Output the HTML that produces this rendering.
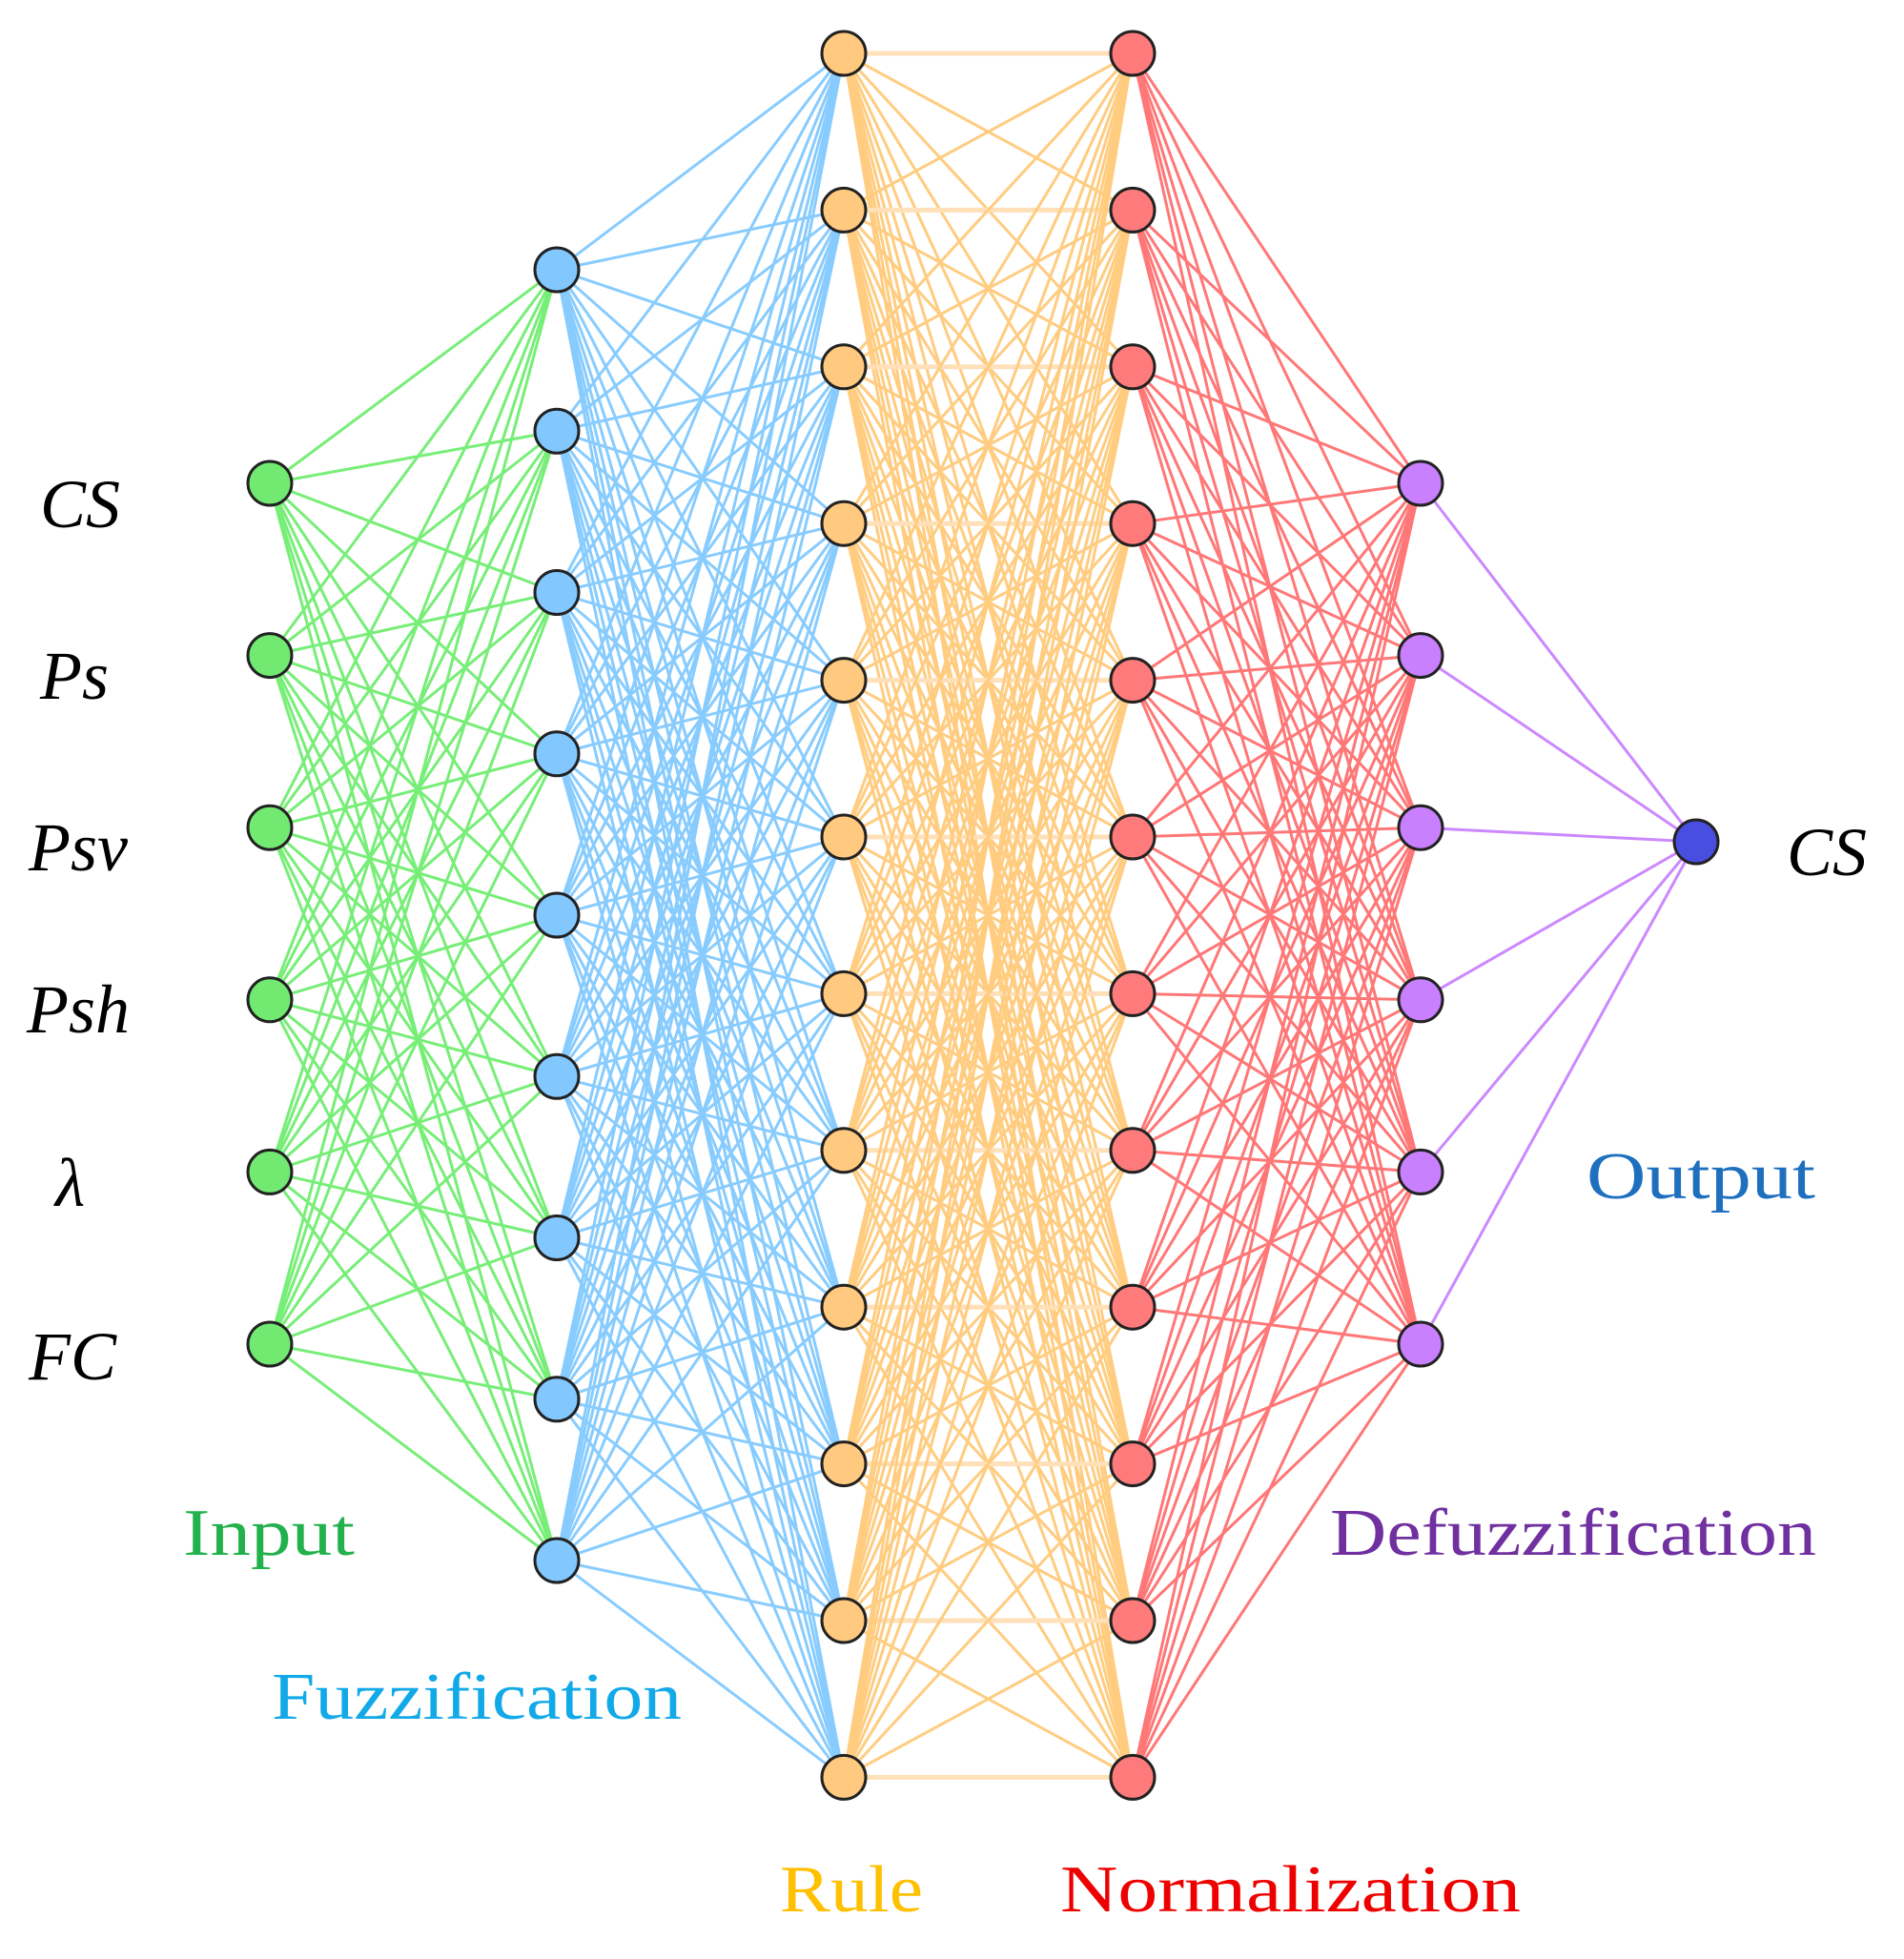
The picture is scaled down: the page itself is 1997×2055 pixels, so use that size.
<!DOCTYPE html>
<html><head><meta charset="utf-8">
<style>
html,body{margin:0;padding:0;background:#fff;}
svg{display:block;}
.lab{font-family:"Liberation Serif",serif;font-style:italic;font-size:72px;fill:#000;}
.grp{font-family:"Liberation Serif",serif;font-size:70px;}
</style></head>
<body>
<svg id="s" width="1997" height="2055" viewBox="0 0 1997 2055" xmlns="http://www.w3.org/2000/svg">
<g id="lines"></g>
<g id="nodes"></g>
<text class="lab" x="42" y="553">CS</text>
<text class="lab" x="42" y="733">Ps</text>
<text class="lab" x="30" y="913">Psv</text>
<text class="lab" x="28" y="1083">Psh</text>
<text class="lab" x="58" y="1265">λ</text>
<text class="lab" x="30" y="1447">FC</text>
<text class="lab" x="1874" y="918">CS</text>
<text class="grp" x="192" y="1631" fill="#22b14c" textLength="180" lengthAdjust="spacingAndGlyphs">Input</text>
<text class="grp" x="285" y="1803" fill="#12a9e8" textLength="430" lengthAdjust="spacingAndGlyphs">Fuzzification</text>
<text class="grp" x="818" y="2005" fill="#ffc000" textLength="150" lengthAdjust="spacingAndGlyphs">Rule</text>
<text class="grp" x="1112" y="2005" fill="#ee0000" textLength="483" lengthAdjust="spacingAndGlyphs">Normalization</text>
<text class="grp" x="1395" y="1631" fill="#7030a0" textLength="510" lengthAdjust="spacingAndGlyphs">Defuzzification</text>
<text class="grp" x="1664" y="1257" fill="#1f6fbf" textLength="240" lengthAdjust="spacingAndGlyphs">Output</text>
</svg>
<script>
(function(){
var NS="http://www.w3.org/2000/svg";
function col(x,y0,step,n){var a=[];for(var i=0;i<n;i++)a.push([x,y0+i*step]);return a;}
var L=[
 {p:col(283,507,180.6,6),f:"#72ea72",c:"#77ee77"},
 {p:col(584,283,169.25,9),f:"#82c8ff",c:"#88ccff"},
 {p:col(885,56,164.4,12),f:"#ffc97f",c:"#ffcc80"},
 {p:col(1188,56,164.4,12),f:"#ff7b7b",c:"#ff7777"},
 {p:col(1490,507,180.6,6),f:"#c980ff",c:"#cc88ff"},
 {p:[[1779,883]],f:"#4a4ee0",c:null}
];
var lg=document.getElementById("lines"),ng=document.getElementById("nodes");
for(var k=0;k<L.length-1;k++){
 var A=L[k].p,B=L[k+1].p,c=L[k].c;
 for(var i=0;i<A.length;i++)for(var j=0;j<B.length;j++){
  var l=document.createElementNS(NS,"line");
  l.setAttribute("x1",A[i][0]);l.setAttribute("y1",A[i][1]);
  l.setAttribute("x2",B[j][0]);l.setAttribute("y2",B[j][1]);
  l.setAttribute("stroke",c);l.setAttribute("stroke-width",(k==2&&i==j)?"5":"3");
  if(k==2&&i==j)l.setAttribute("stroke","#ffe0b8");
  lg.appendChild(l);
 }
}
for(var k=0;k<L.length;k++){
 var A=L[k].p;
 for(var i=0;i<A.length;i++){
  var e=document.createElementNS(NS,"circle");
  e.setAttribute("cx",A[i][0]);e.setAttribute("cy",A[i][1]);e.setAttribute("r","23");
  e.setAttribute("fill",L[k].f);e.setAttribute("stroke","#222");e.setAttribute("stroke-width","3");
  ng.appendChild(e);
 }
}
})();
</script>
</body></html>
